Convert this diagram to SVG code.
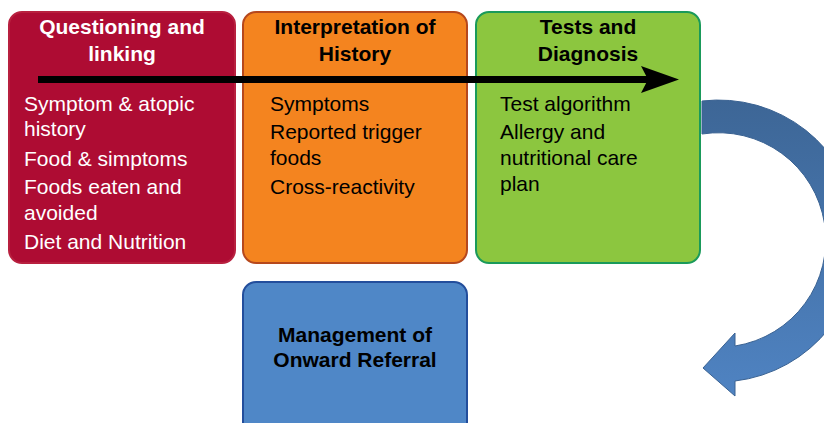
<svg xmlns="http://www.w3.org/2000/svg" width="824" height="423" viewBox="0 0 824 423">
<defs>
<style>
.t{font-family:"Liberation Sans",Arial,sans-serif;font-size:21px;font-weight:bold;text-anchor:middle}
.b{font-family:"Liberation Sans",Arial,sans-serif;font-size:21px}
</style>
<linearGradient id="cg" x1="0" y1="0" x2="0" y2="1">
<stop offset="0" stop-color="#3D6696"/>
<stop offset="1" stop-color="#4F83C2"/>
</linearGradient>
</defs>
<rect width="824" height="423" fill="#fff"/>
<g id="node-questioning">
<rect x="9" y="12" width="226" height="251" rx="13" fill="#AE0C33" stroke="#B8203F" stroke-width="2"/>
<text class="t" fill="#fff" x="122" y="34">Questioning and</text>
<text class="t" fill="#fff" x="122" y="61">linking</text>
<g class="b" fill="#fff">
<text x="24" y="111">Symptom &amp; atopic</text>
<text x="24" y="136">history</text>
<text x="24" y="166">Food &amp; simptoms</text>
<text x="24" y="194">Foods eaten and</text>
<text x="24" y="220">avoided</text>
<text x="24" y="249">Diet and Nutrition</text>
</g>
</g>
<g id="node-interpretation">
<rect x="243" y="12" width="224" height="251" rx="13" fill="#F4841F" stroke="#B6481C" stroke-width="2"/>
<text class="t" fill="#000" x="355" y="34">Interpretation of</text>
<text class="t" fill="#000" x="355" y="61">History</text>
<g class="b" fill="#000">
<text x="270" y="111">Symptoms</text>
<text x="270" y="139">Reported trigger</text>
<text x="270" y="165">foods</text>
<text x="270" y="194">Cross-reactivity</text>
</g>
</g>
<g id="node-tests">
<rect x="476" y="12" width="224" height="251" rx="13" fill="#8CC63F" stroke="#1A9A5A" stroke-width="2"/>
<text class="t" fill="#000" x="588" y="34">Tests and</text>
<text class="t" fill="#000" x="588" y="61">Diagnosis</text>
<g class="b" fill="#000">
<text x="500" y="111">Test algorithm</text>
<text x="500" y="139">Allergy and</text>
<text x="500" y="165">nutritional care</text>
<text x="500" y="191">plan</text>
</g>
</g>
<g id="node-management">
<rect x="243" y="282" width="224" height="160" rx="13" fill="#4F87C7" stroke="#234E9C" stroke-width="2"/>
<text class="t" fill="#000" x="355" y="342">Management of</text>
<text class="t" fill="#000" x="355" y="367">Onward Referral</text>
</g>
<g id="connectors">
<path d="M38 79.5 H648" stroke="#000" stroke-width="7" fill="none"/>
<path d="M641 66 L679 79.5 L641 93 L648 79.5 Z" fill="#000"/>
<path d="M702 101 A140 140 0 0 1 735 381 L735 396 L703 368 L735 333 L735 346 A107 107 0 0 0 702 134 Z" fill="url(#cg)" stroke="#3A6292" stroke-width="1"/>
</g>
</svg>
